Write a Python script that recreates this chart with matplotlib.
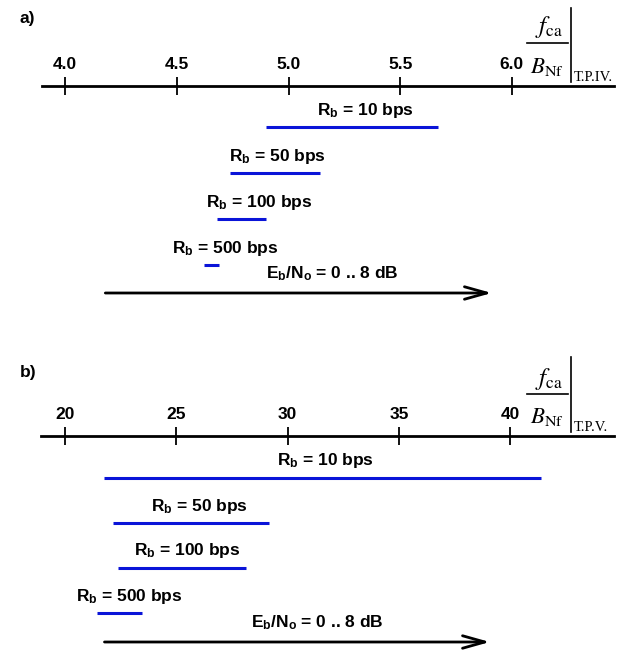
import matplotlib
matplotlib.use('Agg')
import matplotlib.pyplot as plt
from matplotlib import font_manager as fm
from matplotlib import transforms

names = {f.name for f in fm.fontManager.ttflist}
SANS = 'Liberation Sans Narrow' if 'Liberation Sans Narrow' in names else 'Liberation Sans'
SERIF = 'Liberation Serif' if 'Liberation Serif' in names else 'DejaVu Serif'
plt.rcParams['mathtext.fontset'] = 'stix'

# ---------------- data ----------------
rates = ['10', '50', '100', '500']

a_ticks = [4.0, 4.5, 5.0, 5.5, 6.0]
a_tick_labels = ['4.0', '4.5', '5.0', '5.5', '6.0']
a_start = [4.90, 4.74, 4.68, 4.62]
a_end = [5.67, 5.14, 4.90, 4.69]
a_arrow = [4.18, 5.91]

b_ticks = [20, 25, 30, 35, 40]
b_tick_labels = ['20', '25', '30', '35', '40']
b_start = [21.76, 22.15, 22.39, 21.45]
b_end = [41.36, 29.16, 28.13, 23.47]
b_arrow = [21.78, 39.08]

ebno_label = r'$\mathregular{E_b/N_o}$ = 0 .. 8 dB'

# ---------------- layout ----------------
W, H = 626, 650
fig = plt.figure(figsize=(W / 100, H / 100), dpi=100)
BLUE = '#0a14d8'


def panel(ax, height, xlim, bounds, ticks, tick_labels, start, end, arrow,
          label_left, arrow_label_left, axis_y, row0, gap, arrow_y,
          letter, letter_y, tp, frac):
    ax.set_xlim(*xlim)
    ax.set_ylim(height, 0)
    for s in ['left', 'right', 'bottom']:
        ax.spines[s].set_visible(False)
    ax.spines['top'].set_position(('data', axis_y))
    ax.spines['top'].set_bounds(*bounds)
    ax.spines['top'].set_linewidth(2.0)
    ax.set_yticks([])
    ax.xaxis.set_ticks_position('top')
    ax.set_xticks(ticks)
    ax.set_xticklabels(tick_labels, fontfamily=SANS, fontweight='bold', fontsize=12.5)
    ax.tick_params(axis='x', direction='inout', length=13, width=1.3, pad=3.5)
    ax.patch.set_visible(False)

    for i, (r, s, e, lx) in enumerate(zip(rates, start, end, label_left)):
        y = row0 + i * gap
        ax.plot([s, e], [y, y], color=BLUE, lw=2.2, solid_capstyle='butt')
        ax.text(lx, y - 12.5, r'$\mathregular{R_b}$ = ' + r + ' bps',
                fontfamily=SANS, fontweight='bold', fontsize=12.5,
                ha='left', va='baseline')

    ax.annotate('', xy=(arrow[1], arrow_y), xytext=(arrow[0], arrow_y),
                arrowprops=dict(arrowstyle='->,head_length=1.6,head_width=0.45',
                                lw=2.0, color='black', shrinkA=0, shrinkB=0))
    ax.text(arrow_label_left, arrow_y - 14.5, ebno_label, fontfamily=SANS,
            fontweight='bold', fontsize=12.5, ha='left', va='baseline')

    tr = transforms.blended_transform_factory(ax.transAxes, ax.transData)
    ax.text(20 / W, letter_y, letter, transform=tr, fontfamily=SANS,
            fontweight='bold', fontsize=12.5, ha='left', va='center')
    fline_y, f_y, b_y, bar_top, bar_bot, tp_base = frac
    ax.plot([527 / W, 568 / W], [fline_y, fline_y], transform=tr, color='black', lw=1.2)
    ax.plot([571 / W, 571 / W], [bar_top, bar_bot], transform=tr, color='black', lw=1.2)
    ax.text(549 / W, f_y, r'$f_{\mathrm{ca}}$', transform=tr, fontsize=18,
            ha='center', va='center')
    ax.text(547 / W, b_y, r'$B_{\mathrm{Nf}}$', transform=tr, fontsize=16.5,
            ha='center', va='center')
    ax.text(574 / W, tp_base, tp, transform=tr, fontfamily=SERIF, fontsize=10.5,
            ha='left', va='baseline')


ax_a = fig.add_axes([0, 1 - 320 / H, 1, 320 / H])
panel(ax_a, 320, (3.7085, 6.5107), (3.896, 6.457), a_ticks, a_tick_labels,
      a_start, a_end, a_arrow,
      [5.126, 4.735, 4.632, 4.480], 4.901,
      86, 127, 46, 293, 'a)', 18, 'T.P.IV.',
      (43, 27, 66, 8, 82, 81))

ax_b = fig.add_axes([0, 0, 1, 330 / H])
panel(ax_b, 330, (17.09, 45.19), (18.94, 44.64), b_ticks, b_tick_labels,
      b_start, b_end, b_arrow,
      [29.53, 23.87, 23.10, 20.49], 28.36,
      116, 158, 45, 322, 'b)', 53, 'T.P.V.',
      (74, 59, 96, 37, 112, 111))

fig.savefig('out.png', dpi=100)
